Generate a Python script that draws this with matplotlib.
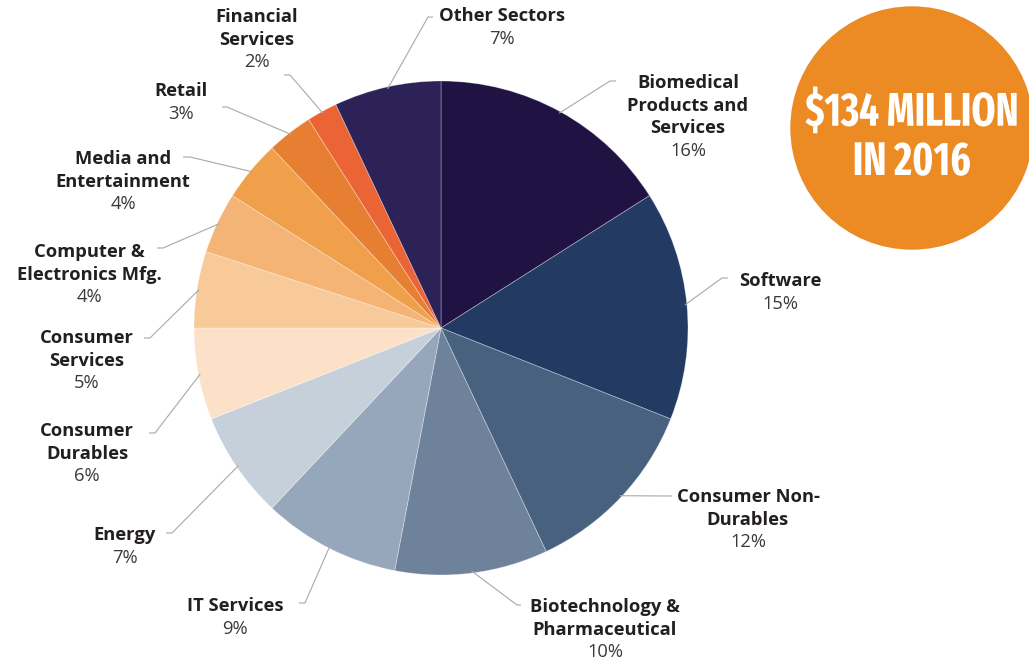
import matplotlib
matplotlib.use("Agg")
import matplotlib.pyplot as plt
import numpy as np
from matplotlib.patches import Circle
from matplotlib import font_manager
from matplotlib.font_manager import FontProperties
from matplotlib.patheffects import AbstractPathEffect
from matplotlib.transforms import Affine2D

# ---- data ----
sectors = ["Biomedical\nProducts and\nServices", "Software", "Consumer Non-\nDurables",
           "Biotechnology &\nPharmaceutical", "IT Services", "Energy",
           "Consumer\nDurables", "Consumer\nServices", "Computer &\nElectronics Mfg.",
           "Media and\nEntertainment", "Retail", "Financial\nServices", "Other Sectors"]
shares = [16, 15, 12, 10, 9, 7, 6, 5, 4, 4, 3, 2, 7]
colors = ["#201343", "#233a63", "#47617f", "#6e829c", "#96a7bb", "#c5d0da",
          "#fce1c8", "#f8c999", "#f4b475", "#f0a04a", "#e77f33", "#eb6435", "#2d2257"]
badge_lines = ["$134 MILLION", "IN 2016"]

# ---- layout (pixel coordinates, y downward) ----
W, H = 1029, 661
cx, cy, R = 441, 328, 247
label_pos = [(688, 83), (780, 281), (748, 497), (605, 607), (235, 606), (125, 535),
             (87, 431), (87, 338), (89, 252), (123, 159), (181, 91), (257, 17), (502, 16)]
leaders = [((610, 81), (616, 81)), ((722, 278), (728, 278)), ((668, 496), (672, 496)),
           ((517, 605), (521, 605)), ((305, 603), (299, 603)), ((172, 533), (166, 533)),
           ((155, 433), (149, 433)), ((150, 338), (144, 338)), ((163, 248), (157, 248)),
           ((190, 157), (183, 157)), ((227, 107), (222, 107)), ((290, 75), (284, 75)),
           ((428, 17), (433, 17))]
badge_center, badge_r = (912, 128), 121
badge_text_y = [112, 162]
badge_text_w = [213, 118]


def Y(y):
    return H - y


class VStretch(AbstractPathEffect):
    """Stretch text glyphs vertically about their centre."""
    def __init__(self, sy):
        super().__init__()
        self.sy = sy

    def draw_path(self, renderer, gc, tpath, affine, rgbFace=None):
        ext = tpath.get_extents()
        c = (ext.y0 + ext.y1) / 2
        t = Affine2D().translate(0, -c).scale(1, self.sy).translate(0, c) + affine
        renderer.draw_path(gc, tpath, t, rgbFace)


def pick_condensed():
    files = [f.fname for f in font_manager.fontManager.ttflist]
    prefs = [("ExtraCondensed", "Bold"), ("Condensed", "Bold"), ("Narrow", "Bold")]
    for key, wt in prefs:
        for fn in sorted(files):
            base = fn.split("/")[-1]
            if key in base and wt in base and "Extra" + wt not in base and "Semi" + wt not in base \
                    and "Italic" not in base and "Semi" + key not in base \
                    and (key == "ExtraCondensed" or "ExtraCondensed" not in base):
                return FontProperties(fname=fn)
    return FontProperties(family="DejaVu Sans", weight="bold")


fig = plt.figure(figsize=(W / 100, H / 100), dpi=100)
ax = fig.add_axes([0, 0, 1, 1])

wedges, _ = ax.pie(shares, colors=colors, startangle=90, counterclock=False,
                   center=(cx, Y(cy)), radius=R, frame=True,
                   wedgeprops=dict(edgecolor=(1, 1, 1, 0.35), linewidth=0.6))
ax.set_xlim(0, W)
ax.set_ylim(0, H)
ax.set_aspect("equal")
ax.axis("off")

line_h = 22.6
for w, name, pct, (lx, ly), (elb, end) in zip(wedges, sectors, shares, label_pos, leaders):
    mid = np.deg2rad((w.theta1 + w.theta2) / 2)
    sx = cx + (R - 2) * np.cos(mid)
    sy = Y(cy) + (R - 2) * np.sin(mid)
    ax.plot([sx, elb[0], end[0]], [sy, Y(elb[1]), Y(end[1])], color="#a8a8a8",
            lw=0.8, solid_capstyle="butt", zorder=1)
    lines = name.split("\n")
    for i, t in enumerate(lines):
        ax.text(lx, Y(ly + i * line_h), t, ha="center", va="center",
                fontsize=13.2, fontweight="bold", family="Open Sans", color="#231f20")
    ax.text(lx, Y(ly + len(lines) * line_h), f"{pct}%", ha="center", va="center",
            fontsize=13.2, family="Open Sans", color="#3a3a3a")

# badge
ax.add_patch(Circle((badge_center[0], Y(badge_center[1])), badge_r, color="#ec8a24", zorder=3))
base_fp = pick_condensed()
base_size = 34
fig.canvas.draw()
renderer = fig.canvas.get_renderer()
for txt, ty, tw in zip(badge_lines, badge_text_y, badge_text_w):
    fp = base_fp.copy()
    fp.set_size(base_size)
    probe = ax.text(0, 0, txt, fontproperties=fp)
    wpx = probe.get_window_extent(renderer).width
    probe.remove()
    ratio = min(1.0, tw / wpx)
    fp.set_size(base_size * ratio)
    t = ax.text(badge_center[0], Y(ty), txt, ha="center", va="center", color="white",
                fontproperties=fp, zorder=4)
    if ratio < 0.97:
        t.set_path_effects([VStretch(1.0 / ratio)])

fig.savefig("out.png", dpi=100, facecolor="white")
